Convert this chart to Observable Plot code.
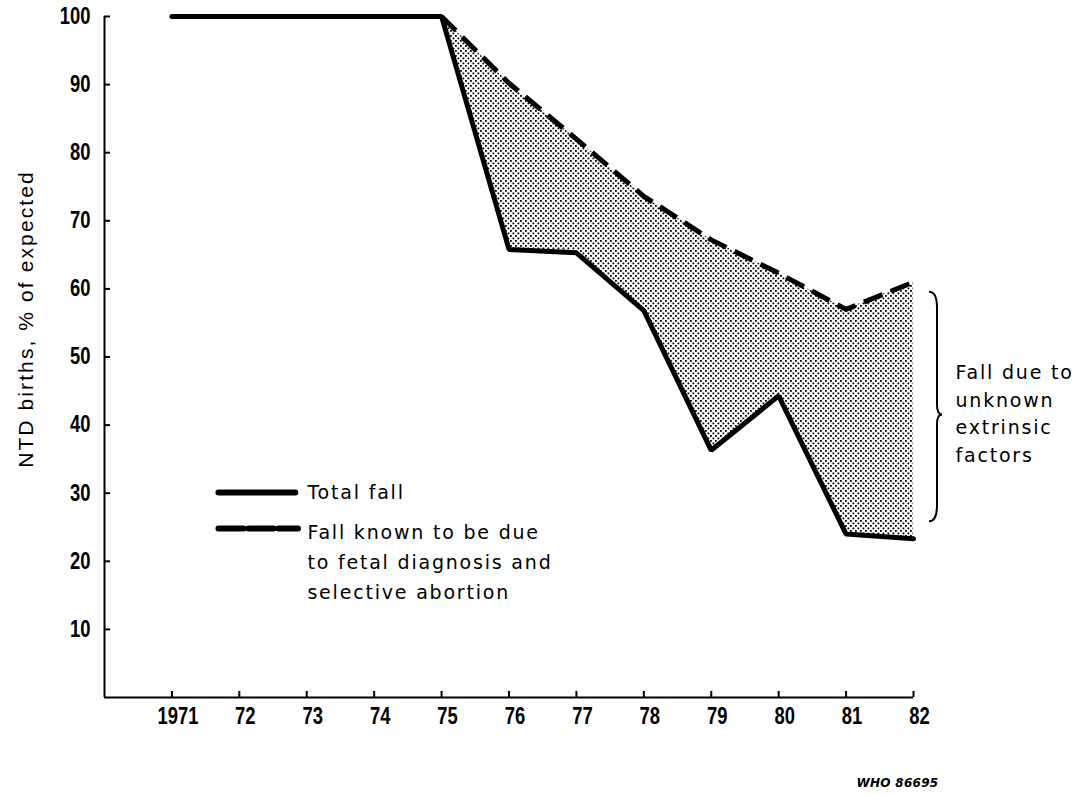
<!DOCTYPE html>
<html><head><meta charset="utf-8">
<script src="https://cdn.jsdelivr.net/npm/d3@7"></script>
<script src="https://cdn.jsdelivr.net/npm/@observablehq/plot@0.6"></script>
<style>
body{margin:0;background:#fff;}
</style></head><body><div id="chart"></div>
<script>
// ---- data ----
const years = [1971,1972,1973,1974,1975,1976,1977,1978,1979,1980,1981,1982];
const xTickLabels = ["1971","72","73","74","75","76","77","78","79","80","81","82"];
const totalFall = [100,100,100,100,100,65.8,65.3,56.8,36.3,44.3,24.0,23.3];
const knownYears = [1975,1976,1977,1978,1979,1980,1981,1982];
const knownFall = [100,90.2,82.0,73.6,67.2,62.3,57.0,61.0];
const yTicks = [10,20,30,40,50,60,70,80,90,100];
const legendLabels = ["Total fall", "Fall known to be due\nto fetal diagnosis and\nselective abortion"];
const braceLabel = "Fall due to\nunknown\nextrinsic\nfactors";
const yLabel = "NTD births, % of expected";
const captionText = "WHO 86695";

(function(){
// ---- tables ----
const totalData = years.map((y,i)=>({year:y, value:totalFall[i]}));
const knownData = knownYears.map((y,i)=>({year:y, value:knownFall[i]}));
const band = knownYears.map((y,i)=>({year:y, known:knownFall[i], total:totalFall[years.indexOf(y)]}));
// legend anchors (data units)
const legendSolid = [{x:1971.69,y:30.1},{x:1972.83,y:30.1}];
const legendDash = [{x:1971.69,y:24.8},{x:1972.87,y:24.8}];

const tickFont = "'Liberation Sans',Arial,sans-serif";
const bodyFont = "'DejaVu Sans',Verdana,sans-serif";

const plot = Plot.plot({
  width: 1083,
  height: 795,
  marginLeft: 104,
  marginRight: 170,
  marginTop: 16,
  marginBottom: 98,
  x: {domain: [1970, 1982]},
  y: {domain: [0, 100]},
  style: {background: "#fff", color: "#000"},
  marks: [
    Plot.areaY(band, {x: "year", y1: "total", y2: "known", fill: "url(#dots)", curve: "linear"}),
    Plot.ruleX([1970], {y1: 0, y2: 100, strokeWidth: 2}),
    Plot.ruleY([0], {x1: 1970, x2: 1982, strokeWidth: 2}),
    Plot.axisY(yTicks, {tickSize: -6, tickFormat: () => "", label: null, strokeWidth: 2}),
    Plot.axisY(yTicks, {tickSize: 0, tickPadding: 14, label: null, fontSize: 23, fontFamily: tickFont, fontWeight: "bold"}),
    Plot.axisX(years, {tickSize: -6, tickFormat: () => "", label: null, strokeWidth: 2}),
    Plot.axisX(years, {tickSize: 0, tickPadding: 10, label: null, dx: 6, fontSize: 23, fontFamily: tickFont, fontWeight: "bold",
      tickFormat: d => xTickLabels[years.indexOf(d)]}),
    Plot.line(knownData, {x: "year", y: "value", strokeWidth: 5, strokeDasharray: "20,9", strokeLinecap: "butt"}),
    Plot.line(totalData, {x: "year", y: "value", strokeWidth: 5, strokeLinejoin: "miter"}),
    // legend
    Plot.line(legendSolid, {x: "x", y: "y", strokeWidth: 6}),
    Plot.line(legendDash, {x: "x", y: "y", strokeWidth: 6, strokeDasharray: "25,5"}),
    Plot.text([legendLabels[0]], {x: 1973.01, y: 30.1, textAnchor: "start", fontSize: 19, fontFamily: bodyFont}),
    Plot.text([legendLabels[1]], {x: 1973.01, y: 20.3, textAnchor: "start", lineAnchor: "middle", lineHeight: 1.6, fontSize: 19, fontFamily: bodyFont}),
    // brace label
    Plot.text([braceLabel], {x: 1982, dx: 42, y: 42, textAnchor: "start", lineAnchor: "middle", lineHeight: 1.45, fontSize: 19, fontFamily: bodyFont}),
    // caption
    Plot.text([captionText], {x: 1982, dx: 25, y: 0, dy: 86, textAnchor: "end", fontSize: 12, fontStyle: "italic", fontWeight: "bold", fontFamily: bodyFont})
  ]
});

const svg = d3.select(plot);
const defs = svg.insert("defs", ":first-child");
const pat = defs.append("pattern").attr("id", "dots").attr("width", 5).attr("height", 5).attr("patternUnits", "userSpaceOnUse");
pat.append("rect").attr("width", 5).attr("height", 5).attr("fill", "#fff");
pat.append("rect").attr("x", 0).attr("y", 0).attr("width", 1.8).attr("height", 1.8).attr("fill", "#000");
pat.append("rect").attr("x", 2.5).attr("y", 2.5).attr("width", 1.8).attr("height", 1.8).attr("fill", "#000");

svg.selectAll('g[aria-label="text"] text').style("letter-spacing", "1.8px");

// condensed look for tick labels
svg.selectAll('g[aria-label="y-axis tick label"] text, g[aria-label="x-axis tick label"] text').each(function(){
  const t = this.getAttribute("transform") || "";
  this.setAttribute("transform", t + " scale(0.8,1)");
});

const xs = plot.scale("x"), ys = plot.scale("y");

// y-axis label (rotated)
const yc = ys.apply(55.5);
svg.append("text").text(yLabel)
  .attr("transform", `translate(${xs.apply(1970) - 71},${yc}) rotate(-90)`)
  .attr("text-anchor", "middle")
  .attr("font-family", "'Liberation Sans',Arial,sans-serif")
  .attr("font-size", 21)
  .style("letter-spacing", "2.1px")
  .attr("fill", "#000");

// brace (annotation) derived from scales
const bx = xs.apply(1982);
const bx0 = bx + 16, bx1 = bx + 24, bx2 = bx + 29;
const bTop = ys.apply(59.5), bBot = ys.apply(25.8), bMid = ys.apply(41.5);
const p = d3.path();
p.moveTo(bx0, bTop);
p.quadraticCurveTo(bx1, bTop, bx1, bTop + 16);
p.lineTo(bx1, bMid - 10);
p.quadraticCurveTo(bx1, bMid, bx2, bMid);
p.quadraticCurveTo(bx1, bMid, bx1, bMid + 10);
p.lineTo(bx1, bBot - 16);
p.quadraticCurveTo(bx1, bBot, bx0, bBot);
svg.append("path").attr("d", p.toString()).attr("fill", "none").attr("stroke", "#000").attr("stroke-width", 2);

// caption letter spacing
svg.selectAll('g[aria-label="text"] text').filter(function(){ return this.textContent === captionText; }).style("letter-spacing", "0.3px");

document.getElementById("chart").appendChild(plot);
})();
</script>
</body></html>
